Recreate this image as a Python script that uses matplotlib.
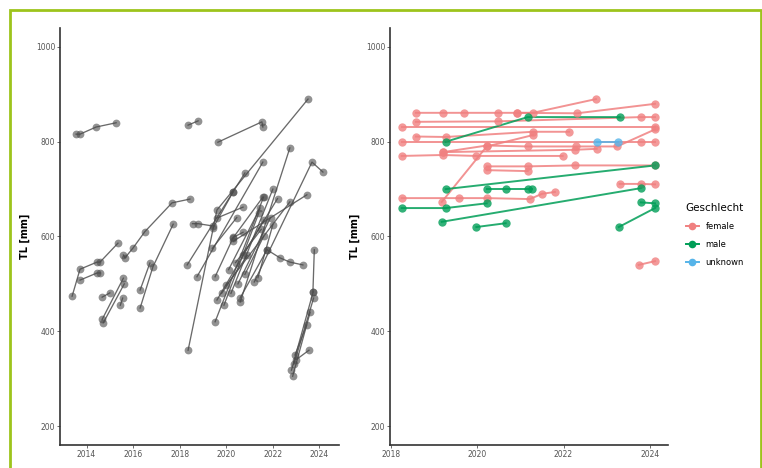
import matplotlib
matplotlib.use("Agg")
import matplotlib.pyplot as plt
from matplotlib.lines import Line2D
from matplotlib.patches import Rectangle

# ---------------- data: left panel (all fish, grey) ----------------
left_years = [
    [2013.55, 2013.72, 2014.41, 2015.27],
    [2013.38, 2013.72, 2014.45, 2014.58, 2015.35],
    [2013.72, 2014.45, 2014.58],
    [2014.67, 2015.0],
    [2014.67, 2015.58],
    [2014.72, 2015.62],
    [2015.45, 2015.55],
    [2015.58, 2015.65, 2016.0, 2016.5, 2017.67, 2018.44],
    [2016.3, 2016.72],
    [2016.3, 2016.85, 2017.72],
    [2018.36, 2018.79],
    [2019.64, 2021.53, 2021.57],
    [2018.36, 2019.6, 2023.51],
    [2018.55, 2018.8, 2019.45],
    [2018.32, 2020.29, 2020.8],
    [2018.74, 2021.57],
    [2020.6, 2022.73],
    [2019.52, 2021.6],
    [2019.6, 2021.62],
    [2019.52, 2020.3, 2020.72],
    [2020.0, 2022.73],
    [2020.3, 2023.46],
    [2021.2, 2023.68, 2024.15],
    [2021.75, 2022.3, 2022.73, 2023.29],
    [2020.1, 2021.45],
    [2020.29, 2021.57],
    [2019.43, 2020.29],
    [2019.6, 2020.72],
    [2021.36, 2022.0],
    [2020.59, 2021.75],
    [2022.8, 2023.73],
    [2022.85, 2023.6],
    [2022.9, 2023.75],
    [2022.95, 2023.45],
    [2023.0, 2023.55],
    [2023.72, 2023.78],
    [2020.2, 2022.0],
    [2020.8, 2021.6],
    [2019.4, 2020.45],
    [2019.9, 2021.4],
    [2020.5, 2021.9],
    [2020.7, 2022.2],
    [2019.8, 2020.9],
    [2020.4, 2021.5],
]
left_tl = [
    [816, 816, 831, 840],
    [474, 531, 546, 546, 586],
    [508, 523, 523],
    [472, 481],
    [425, 512],
    [418, 500],
    [455, 470],
    [561, 555, 576, 610, 671, 679],
    [487, 544],
    [449, 536, 626],
    [835, 844],
    [799, 842, 831],
    [360, 656, 890],
    [627, 627, 622],
    [540, 694, 734],
    [515, 757],
    [462, 787],
    [420, 683],
    [466, 635],
    [515, 598, 609],
    [497, 673],
    [590, 688],
    [504, 757, 736],
    [572, 555, 546, 540],
    [530, 660],
    [597, 683],
    [618, 694],
    [639, 662],
    [513, 625],
    [470, 572],
    [318, 483],
    [305, 440],
    [330, 470],
    [350, 413],
    [340, 360],
    [483, 572],
    [480, 700],
    [520, 600],
    [575, 640],
    [455, 650],
    [500, 640],
    [560, 680],
    [480, 560],
    [545, 615],
]

# ---------------- data: right panel (by sex) ----------------
right_sex = [
    "female", "female", "female", "female", "female", "female", "female",
    "female", "female", "female", "female", "female", "female", "female",
    "female",
    "male", "male", "male", "male", "male", "male", "male", "male",
    "unknown",
]
right_years = [
    [2018.58, 2019.2, 2019.69, 2020.48, 2020.92, 2021.29, 2022.75],
    [2020.92, 2022.31, 2024.12],
    [2018.58, 2020.48, 2023.79, 2024.12],
    [2018.25, 2024.12],
    [2019.2, 2020.22, 2021.17, 2022.28, 2023.24, 2024.12],
    [2019.2, 2022.26, 2022.77],
    [2018.58, 2019.27, 2021.29, 2022.13],
    [2018.25, 2023.79, 2024.12],
    [2018.25, 2019.2, 2019.98, 2021.98],
    [2019.18, 2020.22, 2021.29],
    [2020.22, 2021.17, 2022.26, 2024.12],
    [2020.22, 2021.17],
    [2018.25, 2019.57, 2020.22, 2021.22, 2021.5, 2021.8],
    [2023.3, 2023.79, 2024.12],
    [2023.74, 2024.12],
    [2019.27, 2021.17, 2023.3],
    [2019.27, 2024.12],
    [2020.22, 2020.66, 2021.17, 2021.26],
    [2018.25, 2019.27, 2020.22],
    [2019.18, 2023.79],
    [2019.98, 2020.66],
    [2023.28, 2024.12],
    [2023.79, 2024.12],
    [2022.77, 2023.26],
]
right_tl = [
    [861, 861, 861, 861, 861, 861, 890],
    [861, 860, 880],
    [842, 843, 852, 852],
    [831, 831],
    [778, 792, 790, 790, 790, 826],
    [778, 783, 785],
    [811, 810, 821, 821],
    [800, 800, 800],
    [770, 772, 770, 770],
    [673, 790, 814],
    [748, 748, 750, 750],
    [740, 738],
    [681, 681, 681, 679, 690, 694],
    [711, 711, 710],
    [540, 548],
    [800, 852, 852],
    [700, 750],
    [700, 700, 700, 700],
    [660, 660, 670],
    [631, 702],
    [620, 628],
    [620, 660],
    [672, 670],
    [800, 800],
]
sex_levels = ["female", "male", "unknown"]
sex_colors = {"female": "#F08080", "male": "#009E57", "unknown": "#56B4E9"}

y_ticks = [200, 400, 600, 800, 1000]
left_xticks = [2014, 2016, 2018, 2020, 2022, 2024]
right_xticks = [2018, 2020, 2022, 2024]

# ---------------- figure ----------------
W, H = 762, 468
fig = plt.figure(figsize=(W / 100, H / 100), dpi=100)
fig.patch.set_facecolor("white")

def frac(x0, y0, x1, y1):
    return [x0 / W, 1 - y1 / H, (x1 - x0) / W, (y1 - y0) / H]

axL = fig.add_axes(frac(60, 28, 339, 445))
axR = fig.add_axes(frac(390, 28, 668, 445))

def style(ax, xticks, xlim):
    ax.set_ylim(160, 1040)
    ax.set_xlim(*xlim)
    ax.set_yticks(y_ticks)
    ax.set_xticks(xticks)
    for s in ["top", "right"]:
        ax.spines[s].set_visible(False)
    for s in ["left", "bottom"]:
        ax.spines[s].set_color("#333333")
        ax.spines[s].set_linewidth(1.2)
    ax.tick_params(axis="both", labelsize=5.5, colors="#555555", length=2,
                   width=0.6, pad=1.5)
    ax.set_ylabel("TL [mm]", fontsize=7, fontweight="bold", labelpad=4)
    ax.set_facecolor("white")

style(axL, left_xticks, (2012.86, 2024.84))
style(axR, right_xticks, (2017.98, 2024.42))

for xs, ys in zip(left_years, left_tl):
    axL.plot(xs, ys, color="#505050", lw=0.95, alpha=0.85, zorder=2)
    axL.plot(xs, ys, linestyle="none", marker="o", markersize=5.6,
             markerfacecolor="#4a4a4a", markeredgecolor="none", alpha=0.6,
             zorder=3)

for sex, xs, ys in zip(right_sex, right_years, right_tl):
    c = sex_colors[sex]
    axR.plot(xs, ys, color=c, lw=1.4, alpha=0.85, zorder=2)
    axR.plot(xs, ys, linestyle="none", marker="o", markersize=6,
             markerfacecolor=c, markeredgecolor="none", alpha=0.8, zorder=3)

handles = [Line2D([0], [0], color=sex_colors[s], lw=1.4, marker="o",
                  markersize=5.5, markeredgecolor="none") for s in sex_levels]
leg = fig.legend(handles, sex_levels, title="Geschlecht", loc="upper left",
                 bbox_to_anchor=(678 / W, 1 - 195 / H), frameon=False,
                 fontsize=6, title_fontsize=7.5, handlelength=1.6,
                 labelspacing=1.1, handletextpad=0.8)
leg._legend_box.align = "left"

# green frame
fig.patches.append(Rectangle((9.5 / W, -0.05), (760.5 - 9.5) / W,
                             (H - 9.5) / H + 0.05, transform=fig.transFigure,
                             fill=False, edgecolor="#9DC41C", lw=2.0,
                             clip_on=False))

fig.savefig("out.png", dpi=100, facecolor="white")
